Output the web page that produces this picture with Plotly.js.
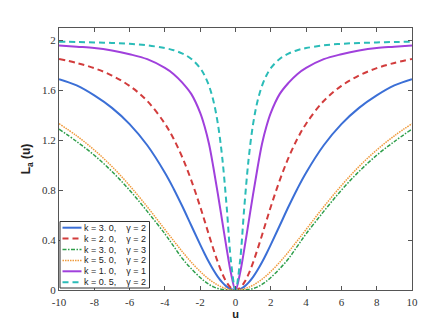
<!DOCTYPE html>
<html>
<head>
<meta charset="utf-8">
<script src="https://cdn.plot.ly/plotly-3.0.1.min.js"></script>
<style>
  html, body { margin: 0; padding: 0; background: #fff; }
  #graphContainer { width: 440px; height: 328px; }
</style>
</head>
<body>
<div id="graphContainer"></div>
<script>
// u values (shared by every curve)
let uValues = [-10, -9, -8, -7, -6, -5, -4, -3.5, -3, -2.5, -2, -1.75, -1.5, -1.25, -1, -0.75, -0.5, -0.25, 0,
               0.25, 0.5, 0.75, 1, 1.25, 1.5, 1.75, 2, 2.5, 3, 3.5, 4, 5, 6, 7, 8, 9, 10];

// L_a(u)
let lossK3G2 = [1.69, 1.64, 1.56, 1.46, 1.33, 1.16, 0.94, 0.81, 0.667, 0.515, 0.364, 0.291, 0.222, 0.16, 0.105, 0.061, 0.027, 0.007, 0,
                0.007, 0.027, 0.061, 0.105, 0.16, 0.222, 0.291, 0.364, 0.515, 0.667, 0.81, 0.94, 1.16, 1.33, 1.46, 1.56, 1.64, 1.69];
let lossK2G2 = [1.852, 1.82, 1.778, 1.719, 1.636, 1.515, 1.333, 1.21, 1.059, 0.877, 0.667, 0.554, 0.439, 0.327, 0.222, 0.131, 0.061, 0.016, 0,
                0.016, 0.061, 0.131, 0.222, 0.327, 0.439, 0.554, 0.667, 0.877, 1.059, 1.21, 1.333, 1.515, 1.636, 1.719, 1.778, 1.82, 1.852];
let lossK3G3 = [1.29, 1.19, 1.08, 0.95, 0.80, 0.63, 0.45, 0.35, 0.25, 0.17, 0.10, 0.07, 0.045, 0.025, 0.012, 0.005, 0.002, 0.0005, 0,
                0.0005, 0.002, 0.005, 0.012, 0.025, 0.045, 0.07, 0.10, 0.17, 0.25, 0.35, 0.45, 0.63, 0.80, 0.95, 1.08, 1.19, 1.29];
let lossK5G2 = [1.333, 1.236, 1.122, 0.99, 0.837, 0.667, 0.485, 0.394, 0.305, 0.222, 0.148, 0.115, 0.086, 0.061, 0.039, 0.022, 0.01, 0.0025, 0,
                0.0025, 0.01, 0.022, 0.039, 0.061, 0.086, 0.115, 0.148, 0.222, 0.305, 0.394, 0.485, 0.667, 0.837, 0.99, 1.122, 1.236, 1.333];
let lossK1G1 = [1.96, 1.95, 1.94, 1.92, 1.89, 1.85, 1.78, 1.73, 1.66, 1.57, 1.42, 1.31, 1.17, 0.98, 0.77, 0.55, 0.33, 0.13, 0,
                0.13, 0.33, 0.55, 0.77, 0.98, 1.17, 1.31, 1.42, 1.57, 1.66, 1.73, 1.78, 1.85, 1.89, 1.92, 1.94, 1.95, 1.96];
let lossK05G2 = [1.99, 1.988, 1.984, 1.98, 1.973, 1.961, 1.939, 1.922, 1.895, 1.852, 1.778, 1.719, 1.636, 1.515, 1.333, 1.059, 0.667, 0.222, 0,
                 0.222, 0.667, 1.059, 1.333, 1.515, 1.636, 1.719, 1.778, 1.852, 1.895, 1.922, 1.939, 1.961, 1.973, 1.98, 1.984, 1.988, 1.99];

const sp = "\u00a0";
let seriesNames = [
    "k" + sp + "=" + sp + "3." + sp + "0," + sp + sp + sp + sp + "γ" + sp + "=" + sp + "2",
    "k" + sp + "=" + sp + "2." + sp + "0," + sp + sp + sp + sp + "γ" + sp + "=" + sp + "2",
    "k" + sp + "=" + sp + "3." + sp + "0," + sp + sp + sp + sp + "γ" + sp + "=" + sp + "3",
    "k" + sp + "=" + sp + "5." + sp + "0," + sp + sp + sp + sp + "γ" + sp + "=" + sp + "2",
    "k" + sp + "=" + sp + "1." + sp + "0," + sp + sp + sp + sp + "γ" + sp + "=" + sp + "1",
    "k" + sp + "=" + sp + "0." + sp + "5," + sp + sp + sp + sp + "γ" + sp + "=" + sp + "2"
];
let seriesValues = [lossK3G2, lossK2G2, lossK3G3, lossK5G2, lossK1G1, lossK05G2];

let xTicks = [-10, -8, -6, -4, -2, 0, 2, 4, 6, 8, 10];
let xTickLabels = ["-10", "-8", "-6", "-4", "-2", "0", "2", "4", "6", "8", "10"];
let yTicks = [0, 0.4, 0.8, 1.2, 1.6, 2];
let yTickLabels = ["0", "0.4", "0.8", "1.2", "1.6", "2"];

// styles
const colors = ["#3b6fd6", "#d23c3c", "#2e9e4a", "#ef9a3c", "#a040dc", "#2bbcb8"];
const dashes = ["solid", "6px,4px", "4px,1.5px,1.5px,1.5px", "1.5px,1px", "solid", "6px,4px"];
const widths = [2, 2, 1.5, 1.5, 2, 2];

let graphData = seriesValues.map(function (vals, i) {
    return {
        x: uValues,
        y: vals,
        mode: "lines",
        name: seriesNames[i],
        line: {color: colors[i], dash: dashes[i], width: widths[i], shape: "spline", smoothing: 1},
        showlegend: false
    };
});

// legend drawn by hand (plotly's rows are too tall for this box)
const plotL = 59, plotR = 412, plotT = 28, plotB = 290;
function px2x(p) { return (p - plotL) / (plotR - plotL); }
function px2y(p) { return (plotB - p) / (plotB - plotT); }

let shapes = [{
    type: "rect", xref: "paper", yref: "paper",
    x0: px2x(60), x1: px2x(149.5), y0: px2y(288), y1: px2y(221.5),
    fillcolor: "#fff", line: {color: "#333", width: 1}, layer: "above"
}];
let annotations = [];
seriesNames.forEach(function (name, i) {
    let yRow = px2y(227.7 + 10.9 * i);
    shapes.push({
        type: "line", xref: "paper", yref: "paper",
        x0: px2x(62.5), x1: px2x(81.5), y0: yRow, y1: yRow,
        line: {color: colors[i], dash: dashes[i], width: widths[i]}, layer: "above"
    });
    annotations.push({
        xref: "paper", yref: "paper", x: px2x(82), y: yRow,
        xanchor: "left", yanchor: "middle", showarrow: false,
        text: name, font: {family: "'Liberation Sans', Arial, sans-serif", size: 9, color: "#222"}
    });
});

const serif = "'Liberation Serif', 'Times New Roman', serif";
const sans = "'Liberation Sans', Arial, sans-serif";

let graphLayout = {
    width: 440,
    height: 328,
    margin: {l: plotL, r: 440 - plotR, t: plotT, b: 328 - plotB},
    paper_bgcolor: "#fff",
    plot_bgcolor: "#fff",
    showlegend: false,
    xaxis: {
        range: [-10, 10],
        tickmode: "array", tickvals: xTicks, ticktext: xTickLabels,
        ticks: "inside", ticklen: 4, tickcolor: "#555",
        showline: true, linecolor: "#555", linewidth: 1, mirror: "ticks",
        showgrid: false, zeroline: false,
        ticklabelstandoff: 2,
        tickfont: {family: serif, size: 11, color: "#333"},
        title: {text: "<b>u</b>", font: {family: sans, size: 11, color: "#222"}, standoff: 3}
    },
    yaxis: {
        range: [0, 2.1],
        tickmode: "array", tickvals: yTicks, ticktext: yTickLabels,
        ticks: "inside", ticklen: 4, tickcolor: "#555",
        showline: true, linecolor: "#555", linewidth: 1, mirror: "ticks",
        showgrid: false, zeroline: false,
        tickfont: {family: serif, size: 11, color: "#333"},
        title: {text: "<b>L<sub>a</sub> (u)</b>", font: {family: sans, size: 12, color: "#222"}, standoff: 8}
    },
    shapes: shapes,
    annotations: annotations
};

Plotly.newPlot("graphContainer", graphData, graphLayout, {displayModeBar: false, staticPlot: true});
</script>
</body>
</html>
